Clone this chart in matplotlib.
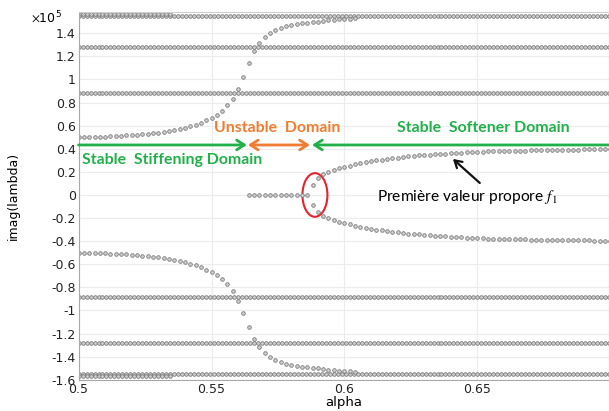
import numpy as np
import matplotlib
matplotlib.use('Agg')
import matplotlib.pyplot as plt
from matplotlib.patches import Ellipse
from matplotlib.ticker import FuncFormatter, MultipleLocator

plt.rcParams['mathtext.fontset'] = 'stix'

# eigenvalue branches, imag part in units of 1e5 ---------------------
row_levels = [0.88, 1.28, 1.55]      # flat modes, drawn +/- over full range
short_level = 1.57                   # extra mode near the top, left part only
short_end = 0.535

# crossing mode, alpha = 0.500, 0.502, ... (mirrored below zero)
cross_start = 0.5
cross_vals = [0.500, 0.501, 0.502, 0.503, 0.505, 0.506, 0.508, 0.510, 0.512, 0.515,
              0.518, 0.521, 0.525, 0.529, 0.534, 0.540, 0.546, 0.553, 0.561, 0.570,
              0.581, 0.594, 0.609, 0.626, 0.646, 0.668, 0.695, 0.730, 0.775, 0.835,
              0.915, 1.020, 1.140, 1.245, 1.320, 1.370, 1.405, 1.430, 1.447, 1.460,
              1.470, 1.479, 1.486, 1.492, 1.497, 1.502, 1.507, 1.512, 1.516, 1.520,
              1.524, 1.528, 1.532]

# real pair (imag = 0) between the two crossings
zero_start = 0.564
zero_count = 12

# first eigen frequency after the split, alpha = 0.588, 0.590, ...
split_start = 0.588
split_vals = [0.090, 0.150, 0.180, 0.200, 0.215, 0.230, 0.243, 0.255, 0.266, 0.276,
              0.285, 0.293, 0.300, 0.307, 0.313, 0.319, 0.324, 0.329, 0.334, 0.338,
              0.342, 0.346, 0.350, 0.353, 0.356, 0.359, 0.362, 0.364, 0.367, 0.369,
              0.371, 0.373, 0.375, 0.377, 0.378, 0.380, 0.381, 0.382, 0.383, 0.384,
              0.385, 0.386, 0.387, 0.388, 0.389, 0.390, 0.390, 0.391, 0.392, 0.392,
              0.393, 0.394, 0.394, 0.395, 0.395, 0.396, 0.397]

step = 0.002
row_step = 0.0015

green = '#22b04b'
orange = '#ee7d31'

fig = plt.figure(figsize=(6.09, 4.11), dpi=100)
ax = fig.add_axes([0.129, 0.076, 0.871, 0.895])

mk = dict(marker='o', ls='none', ms=2.6, mfc='#cfcfcf', mec='#7a7a7a', mew=0.6)

alpha_rows = np.arange(0.5, 0.7001, row_step)
for lev in row_levels:
    ax.plot(alpha_rows, np.full(len(alpha_rows), lev), **mk)
    ax.plot(alpha_rows, np.full(len(alpha_rows), -lev), **mk)
a_short = alpha_rows[alpha_rows <= short_end]
ax.plot(a_short, np.full(len(a_short), short_level), **mk)
ax.plot(a_short, np.full(len(a_short), -short_level), **mk)

a_cross = cross_start + step * np.arange(len(cross_vals))
ax.plot(a_cross, cross_vals, **mk)
ax.plot(a_cross, -np.array(cross_vals), **mk)

a_zero = zero_start + step * np.arange(zero_count)
ax.plot(a_zero, np.zeros(zero_count), **mk)

a_split = split_start + step * np.arange(len(split_vals))
ax.plot(a_split, split_vals, **mk)
ax.plot(a_split, -np.array(split_vals), **mk)

ax.set_xlim(0.5, 0.6995)
ax.set_ylim(-1.6, 1.585)
ax.xaxis.set_major_locator(MultipleLocator(0.05))
ax.yaxis.set_major_locator(MultipleLocator(0.2))
ax.xaxis.set_major_formatter(FuncFormatter(lambda v, p: '%g' % round(v, 3)))
ax.yaxis.set_major_formatter(FuncFormatter(lambda v, p: '%g' % round(v, 3)))
ax.tick_params(length=0, labelsize=9, pad=2, colors='#222222')
ax.grid(True, color='#ececec', lw=0.8)
ax.set_axisbelow(True)
for s in ['left', 'bottom']:
    ax.spines[s].set_color('#a8a8a8')
for s in ['top', 'right']:
    ax.spines[s].set_color('#cfcfcf')

ax.set_xlabel('alpha', fontsize=9.5, labelpad=0)
ax.set_ylabel('imag(lambda)', fontsize=9)
ax.yaxis.set_label_coords(-0.11, 0.5)
fig.text(0.051, 0.944, r'$\times\mathdefault{10^{5}}$', fontsize=9, va='baseline')

# domain arrows and labels
arrow_y = 0.433
ax.annotate('', xy=(0.5633, arrow_y), xytext=(0.5, arrow_y),
            arrowprops=dict(arrowstyle='->,head_length=0.55,head_width=0.35',
                            color=green, lw=2, shrinkA=0, shrinkB=0))
ax.annotate('', xy=(0.5870, arrow_y), xytext=(0.5637, arrow_y),
            arrowprops=dict(arrowstyle='<->,head_length=0.55,head_width=0.35',
                            color=orange, lw=2, shrinkA=0, shrinkB=0))
ax.annotate('', xy=(0.5878, arrow_y), xytext=(0.6995, arrow_y),
            arrowprops=dict(arrowstyle='->,head_length=0.55,head_width=0.35',
                            color=green, lw=2, shrinkA=0, shrinkB=0))

tf = dict(family='Lato', fontweight='bold', fontsize=11.4)
ax.text(0.5012, 0.30, 'Stable  Stiffening Domain', color=green, va='center', ha='left', **tf)
ax.text(0.5748, 0.58, 'Unstable  Domain', color=orange, va='center', ha='center', **tf)
ax.text(0.6524, 0.58, 'Stable  Softener Domain', color=green, va='center', ha='center', **tf)

ax.text(0.6122, -0.02, r'Première valeur propore $f_1$', family='Lato', fontsize=11.2,
        color='black', va='center', ha='left')
ax.annotate('', xy=(0.6408, 0.312), xytext=(0.6509, 0.104),
            arrowprops=dict(arrowstyle='->,head_length=0.5,head_width=0.3',
                            color='#111111', lw=1.6, shrinkA=0, shrinkB=0))

ax.add_patch(Ellipse((0.5889, 0.0), 0.0094, 0.378, fill=False, ec='#e3262d', lw=1.5))

fig.savefig('out.png', dpi=100)
